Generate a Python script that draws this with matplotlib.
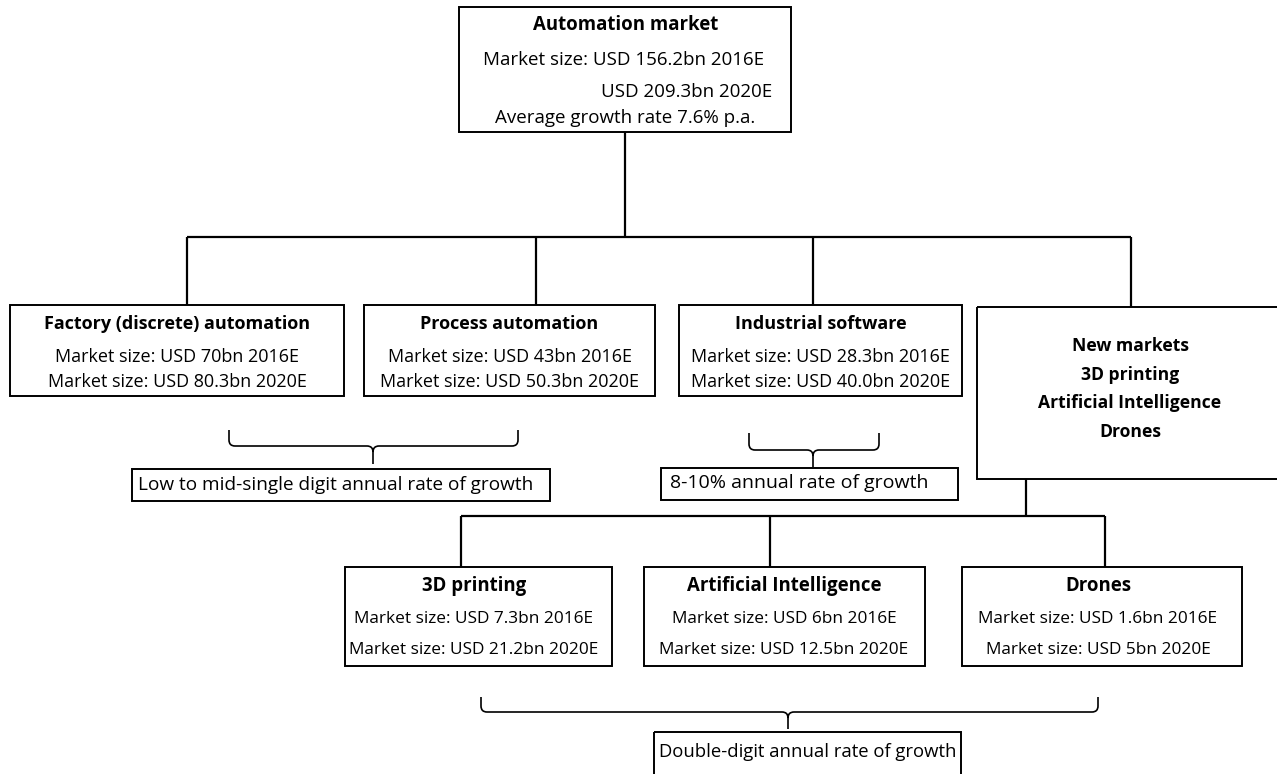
import matplotlib
matplotlib.use("Agg")
import matplotlib.pyplot as plt
from matplotlib.patches import Rectangle, PathPatch
from matplotlib.path import Path

plt.rcParams['font.family'] = ['Open Sans', 'DejaVu Sans']

# texts of the diagram
top_title = "Automation market"
top_lines = ["Market size: USD 156.2bn 2016E", "USD 209.3bn 2020E", "Average growth rate 7.6% p.a."]

mid_titles = ["Factory (discrete) automation", "Process automation", "Industrial software"]
mid_2016 = ["Market size: USD 70bn 2016E", "Market size: USD 43bn 2016E", "Market size: USD 28.3bn 2016E"]
mid_2020 = ["Market size: USD 80.3bn 2020E", "Market size: USD 50.3bn 2020E", "Market size: USD 40.0bn 2020E"]

new_title = "New markets"
new_items = ["3D printing", "Artificial Intelligence", "Drones"]

low_titles = ["3D printing", "Artificial Intelligence", "Drones"]
low_2016 = ["Market size: USD 7.3bn 2016E", "Market size: USD 6bn 2016E", "Market size: USD 1.6bn 2016E"]
low_2020 = ["Market size: USD 21.2bn 2020E", "Market size: USD 12.5bn 2020E", "Market size: USD 5bn 2020E"]

growth_notes = ["Low to mid-single digit annual rate of growth",
                "8-10% annual rate of growth",
                "Double-digit annual rate of growth"]

W, H = 1277, 774
fig = plt.figure(figsize=(W / 100, H / 100), dpi=100)
ax = fig.add_axes([0, 0, 1, 1])
ax.set_xlim(0, W)
ax.set_ylim(H, 0)
ax.axis('off')

LW = 1.4


def box(x0, y0, x1, y1):
    ax.add_patch(Rectangle((x0, y0), x1 - x0, y1 - y0, fill=False, ec='black', lw=LW))


def line(xs, ys):
    ax.plot(xs, ys, color='black', lw=1.6, solid_capstyle='butt')


def txt(x, y, s, size, bold=False, ha='center'):
    ax.text(x, y, s, ha=ha, va='center', fontsize=size,
            fontweight='bold' if bold else 'normal', color='black')


def brace(x0, x1, ytop, ymid, ytip, xc, r=6):
    v = [(x0, ytop), (x0, ymid - r), (x0, ymid), (x0 + r, ymid),
         (xc - r, ymid), (xc, ymid), (xc, ymid + r), (xc, ytip),
         (xc, ymid + r), (xc, ymid), (xc + r, ymid),
         (x1 - r, ymid), (x1, ymid), (x1, ymid - r), (x1, ytop)]
    c = [Path.MOVETO, Path.LINETO, Path.CURVE3, Path.CURVE3,
         Path.LINETO, Path.CURVE3, Path.CURVE3, Path.LINETO,
         Path.MOVETO, Path.CURVE3, Path.CURVE3,
         Path.LINETO, Path.CURVE3, Path.CURVE3, Path.LINETO]
    ax.add_patch(PathPatch(Path(v, c), fill=False, ec='black', lw=1.2))


# top box
box(459, 7, 791, 132)
txt(626, 25, top_title, 13.4, bold=True)
txt(624, 60, top_lines[0], 13.5)
txt(772, 92, top_lines[1], 13.5, ha='right')
txt(625, 118, top_lines[2], 13.5)

# connectors to the second row
line([625, 625], [132, 237])
line([187, 1131], [237, 237])
for xv, yb in zip([187, 536, 813, 1131], [305, 305, 305, 307]):
    line([xv, xv], [237, yb])

# second row boxes
mid_boxes = [(10, 344), (364, 655), (679, 962)]
for (x0, x1), t, a, b in zip(mid_boxes, mid_titles, mid_2016, mid_2020):
    box(x0, 305, x1, 396)
    xc = (x0 + x1) / 2
    txt(xc, 324, t, 13.0, bold=True)
    txt(xc, 357, a, 13.0)
    txt(xc, 382, b, 13.0)

# new markets box (runs off the right edge)
box(977, 307, 1290, 479)
txt(1130, 346, new_title, 12.6, bold=True)
for i, s in enumerate(new_items):
    txt(1130, 375 + 28.5 * i, s, 12.6, bold=True)

# braces and notes for the second row
brace(229, 518, 430, 446, 464, 373)
box(132, 469, 550, 501)
txt(336, 485, growth_notes[0], 13.7)

brace(749, 879, 433, 450, 467, 813)
box(661, 468, 958, 500)
txt(799, 483, growth_notes[1], 14.0)

# connectors to the third row
line([1026, 1026], [479, 516])
line([461, 1105], [516, 516])
for xv in [461, 770, 1105]:
    line([xv, xv], [516, 567])

# third row boxes
low_boxes = [(345, 612), (644, 925), (962, 1242)]
low_centres = [474, 784, 1098]
for (x0, x1), xc, t, a, b in zip(low_boxes, low_centres, low_titles, low_2016, low_2020):
    box(x0, 567, x1, 666)
    txt(xc, 586, t, 13.4, bold=True)
    txt(xc, 619, a, 12.4)
    txt(xc, 650, b, 12.4)

# bottom brace and note
brace(481, 1098, 697, 712, 729, 788)
box(654, 732, 961, 790)
txt(808, 752, growth_notes[2], 13.3)

fig.savefig("out.png", dpi=100)
